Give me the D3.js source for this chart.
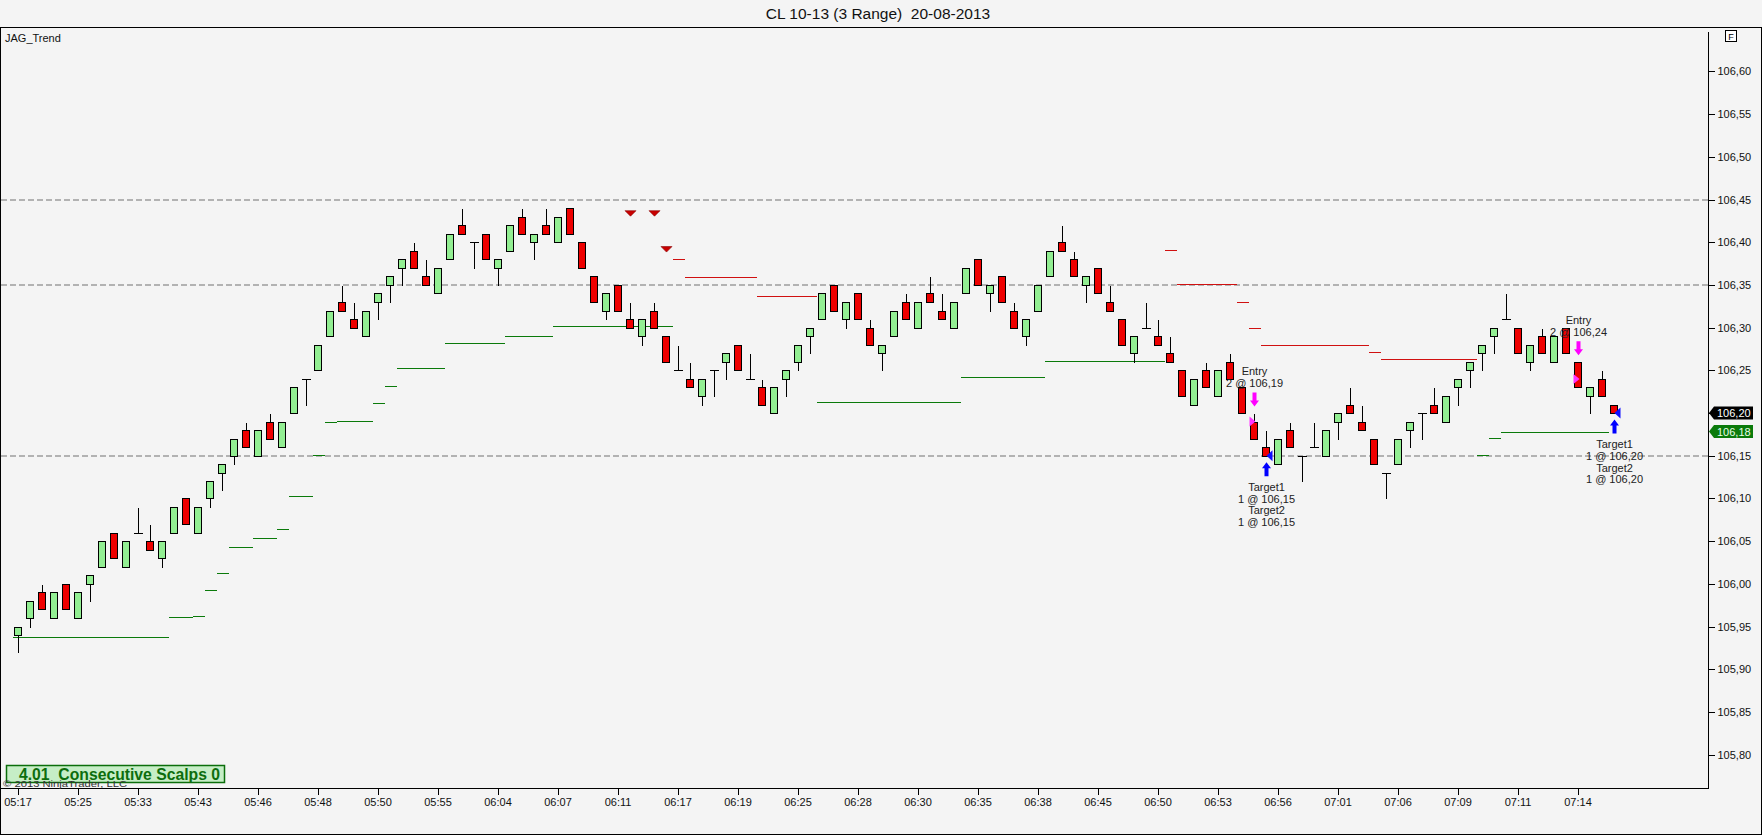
<!DOCTYPE html>
<html>
<head>
<meta charset="utf-8">
<script src="https://cdn.jsdelivr.net/npm/d3@7"></script>
<style>
  body { margin: 0; background: #f4f4f4; overflow: hidden; }
  svg text { font-family: "Liberation Sans", Arial, sans-serif; }
</style>
</head>
<body>
<svg id="chart" width="1762" height="835"></svg>
<script>
// Bars (3 range)
const openP = [
  105.94,105.96,105.99,105.96,106.00,105.96,106.00,106.02,106.06,106.02,
  106.06,106.05,106.03,106.06,106.10,106.06,106.10,106.13,106.15,106.18,
  106.15,106.19,106.16,106.20,106.24,106.25,106.29,106.33,106.31,106.29,
  106.33,106.35,106.37,106.39,106.36,106.34,106.38,106.42,106.40,106.41,
  106.37,106.39,106.43,106.40,106.42,106.40,106.44,106.40,106.36,106.32,
  106.35,106.31,106.29,106.32,106.29,106.25,106.24,106.22,106.25,106.26,
  106.28,106.24,106.23,106.20,106.24,106.26,106.29,106.31,106.35,106.31,
  106.34,106.30,106.27,106.29,106.33,106.30,106.34,106.32,106.30,106.34,
  106.38,106.34,106.36,106.32,106.29,106.32,106.36,106.40,106.38,106.35,
  106.37,106.33,106.31,106.27,106.30,106.29,106.27,106.25,106.21,106.25,
  106.22,106.26,106.23,106.19,106.16,106.14,106.18,106.15,106.16,106.15,
  106.19,106.21,106.19,106.17,106.13,106.14,106.18,106.20,106.21,106.19,
  106.23,106.25,106.27,106.29,106.31,106.30,106.26,106.29,106.26,106.30,
  106.26,106.22,106.24,106.21
];
const highP = [
  105.95,105.98,106.00,105.99,106.00,105.99,106.01,106.05,106.06,106.05,
  106.09,106.07,106.05,106.09,106.10,106.09,106.12,106.14,106.17,106.19,
  106.18,106.20,106.19,106.23,106.24,106.28,106.32,106.35,106.33,106.32,
  106.34,106.36,106.38,106.40,106.38,106.37,106.41,106.44,106.40,106.41,
  106.38,106.42,106.44,106.41,106.44,106.43,106.44,106.40,106.36,106.34,
  106.35,106.33,106.31,106.33,106.29,106.28,106.26,106.24,106.25,106.27,
  106.28,106.27,106.24,106.23,106.25,106.28,106.30,106.34,106.35,106.33,
  106.34,106.31,106.28,106.32,106.34,106.33,106.36,106.34,106.33,106.37,
  106.38,106.35,106.36,106.33,106.31,106.35,106.39,106.42,106.39,106.36,
  106.37,106.35,106.31,106.29,106.33,106.31,106.29,106.25,106.24,106.26,
  106.25,106.27,106.23,106.20,106.18,106.17,106.19,106.15,106.19,106.18,
  106.20,106.23,106.21,106.17,106.13,106.17,106.19,106.20,106.23,106.22,
  106.24,106.26,106.28,106.30,106.34,106.30,106.28,106.30,106.29,106.30,
  106.26,106.23,106.25,106.21
];
const lowP = [
  105.92,105.95,105.97,105.96,105.97,105.96,105.98,106.02,106.03,106.02,
  106.06,106.04,106.02,106.06,106.07,106.06,106.09,106.11,106.14,106.16,
  106.15,106.17,106.16,106.20,106.21,106.25,106.29,106.32,106.30,106.29,
  106.31,106.33,106.35,106.37,106.35,106.34,106.38,106.41,106.37,106.38,
  106.35,106.39,106.41,106.38,106.41,106.40,106.41,106.37,106.33,106.31,
  106.32,106.30,106.28,106.30,106.26,106.25,106.23,106.21,106.22,106.24,
  106.25,106.24,106.21,106.20,106.22,106.25,106.27,106.31,106.32,106.30,
  106.31,106.28,106.25,106.29,106.31,106.30,106.33,106.31,106.30,106.34,
  106.35,106.32,106.33,106.30,106.28,106.32,106.36,106.39,106.36,106.33,
  106.34,106.32,106.28,106.26,106.30,106.28,106.26,106.22,106.21,106.23,
  106.22,106.24,106.20,106.17,106.15,106.14,106.16,106.12,106.16,106.15,
  106.17,106.20,106.18,106.14,106.10,106.14,106.16,106.17,106.20,106.19,
  106.21,106.23,106.25,106.27,106.31,106.27,106.25,106.27,106.26,106.27,
  106.23,106.20,106.22,106.20
];
const closeP = [
  105.95,105.98,105.97,105.99,105.97,105.99,106.01,106.05,106.03,106.05,
  106.06,106.04,106.05,106.09,106.07,106.09,106.12,106.14,106.17,106.16,
  106.18,106.17,106.19,106.23,106.24,106.28,106.32,106.32,106.30,106.32,
  106.34,106.36,106.38,106.37,106.35,106.37,106.41,106.41,106.40,106.38,
  106.38,106.42,106.41,106.41,106.41,106.43,106.41,106.37,106.33,106.34,
  106.32,106.30,106.31,106.30,106.26,106.25,106.23,106.24,106.25,106.27,
  106.25,106.24,106.21,106.23,106.25,106.28,106.30,106.34,106.32,106.33,
  106.31,106.28,106.28,106.32,106.31,106.33,106.33,106.31,106.33,106.37,
  106.35,106.35,106.33,106.30,106.31,106.35,106.39,106.39,106.36,106.36,
  106.34,106.32,106.28,106.29,106.30,106.28,106.26,106.22,106.24,106.23,
  106.25,106.24,106.20,106.17,106.15,106.17,106.16,106.15,106.16,106.18,
  106.20,106.20,106.18,106.14,106.13,106.17,106.19,106.20,106.20,106.22,
  106.24,106.26,106.28,106.30,106.31,106.27,106.28,106.27,106.29,106.27,
  106.23,106.23,106.22,106.20
];

// x labels, one every 5 bars
const timeLabels = ['05:17','05:25','05:33','05:43','05:46','05:48','05:50','05:55','06:04','06:07',
  '06:11','06:17','06:19','06:25','06:28','06:30','06:35','06:38','06:45','06:50',
  '06:53','06:56','07:01','07:06','07:09','07:11','07:14'];
const labelEvery = 5;
const priceTicks = [105.80,105.85,105.90,105.95,106.00,106.05,106.10,106.15,106.20,106.25,106.30,106.35,106.40,106.45,106.50,106.55,106.60];

// JAG_Trend stop lines: [fromBar, toBar, price]
const supportSegments = [
  [0,13,105.9376],[13,15,105.9610],[15,16,105.9622],[16,17,105.9926],[17,18,106.0125],
  [18,20,106.0430],[20,22,106.0535],[22,23,106.0640],[23,25,106.1027],[25,26,106.1507],
  [26,27,106.1893],[27,30,106.1909],[30,31,106.2116],[31,32,106.2315],[32,36,106.2526],
  [36,41,106.2818],[41,45,106.2904],[45,55,106.3018],
  [67,79,106.2128],[79,86,106.2420],[86,96,106.2608],
  [122,123,106.1510],[123,124,106.1706],[124,133,106.1783]
];
const resistanceSegments = [
  [55,56,106.3802],[56,62,106.3591],[62,67,106.3366],
  [96,97,106.3904],[97,102,106.3509],[102,103,106.3299],[103,104,106.2994],
  [104,113,106.2795],[113,114,106.2713],[114,122,106.2631]
];
const signalBars = [51, 53, 54];
const signalPrices = [106.434, 106.434, 106.392];
const dashedLevels = [106.45, 106.35, 106.15];

// trades
const entryBars = [103, 130];
const entryPrices = [106.19, 106.24];
const entryQty = [2, 2];
const exitBars = [104, 133];
const exitPrices = [106.15, 106.20];
const exitQty = [1, 1];

const W = 1762, H = 835;
const plotRight = 1708, plotTop = 27, plotBottom = 788;
const fmt = p => p.toFixed(2).replace('.', ',');

const svg = d3.select('#chart');
svg.append('rect').attr('width', W).attr('height', H).attr('fill', '#f4f4f4');

const x = d3.scaleBand().domain(d3.range(openP.length)).range([12, 12 + 12 * openP.length]);
const edge = b => x.range()[0] + b * x.step();
const cx = i => Math.round(x(i) + x.bandwidth() / 2);
const y = d3.scaleLinear().domain([105.761, 106.652]).range([plotBottom, plotTop]);
const py = p => Math.round(y(p)) + 0.5;

// frame
const frame = svg.append('g').attr('stroke', '#000').attr('shape-rendering', 'crispEdges');
frame.append('line').attr('x1', 0).attr('x2', W).attr('y1', 27.5).attr('y2', 27.5);
frame.append('line').attr('x1', 0.5).attr('x2', 0.5).attr('y1', 27.5).attr('y2', H);
frame.append('line').attr('x1', W - 0.5).attr('x2', W - 0.5).attr('y1', 27.5).attr('y2', H);
frame.append('line').attr('x1', 0).attr('x2', W).attr('y1', H - 0.5).attr('y2', H - 0.5);

// title
svg.append('text').attr('x', 878).attr('y', 19).attr('text-anchor', 'middle')
  .style('font-size', '15.5px').style('white-space', 'pre').attr('fill', '#111')
  .text('CL 10-13 (3 Range)  20-08-2013');
svg.append('text').attr('x', 5).attr('y', 42).style('font-size', '11px').attr('fill', '#111').text('JAG_Trend');

// dashed levels
svg.append('g').selectAll('line').data(dashedLevels).enter().append('line')
  .attr('x1', 1).attr('x2', plotRight).attr('y1', d => Math.round(y(d))).attr('y2', d => Math.round(y(d)))
  .attr('stroke', '#b2b2b2').attr('stroke-width', 2).attr('stroke-dasharray', '6,3');

// trend lines
const trend = svg.append('g').attr('shape-rendering', 'crispEdges');
trend.selectAll('line.sup').data(supportSegments).enter().append('line').attr('class', 'sup')
  .attr('x1', d => edge(d[0]) + 1).attr('x2', d => edge(d[1]) + 1)
  .attr('y1', d => py(d[2])).attr('y2', d => py(d[2])).attr('stroke', '#0a7a0a');
trend.selectAll('line.res').data(resistanceSegments).enter().append('line').attr('class', 'res')
  .attr('x1', d => edge(d[0]) + 1).attr('x2', d => edge(d[1]) + 1)
  .attr('y1', d => py(d[2])).attr('y2', d => py(d[2])).attr('stroke', '#d01010');

// signal triangles
svg.append('g').selectAll('path').data(signalBars).enter().append('path')
  .attr('d', (d, k) => {
    const c = cx(d) + 0.5, t = y(signalPrices[k]) - 2.5;
    return `M${c - 5.5},${t}L${c + 5.5},${t}L${c},${t + 5.5}Z`;
  })
  .attr('fill', '#c80000').attr('stroke', '#8a0000').attr('stroke-width', 0.6);

// candles
const bars = svg.append('g').attr('shape-rendering', 'crispEdges');
d3.range(openP.length).forEach(i => {
  const c = cx(i) + 0.5;
  const o = openP[i], cl = closeP[i];
  bars.append('line').attr('x1', c).attr('x2', c)
    .attr('y1', py(highP[i])).attr('y2', py(lowP[i])).attr('stroke', '#000');
  if (Math.abs(o - cl) < 1e-9) {
    bars.append('line').attr('x1', c - 5).attr('x2', c + 4)
      .attr('y1', py(o)).attr('y2', py(o)).attr('stroke', '#000');
  } else {
    const top = py(Math.max(o, cl)), bot = py(Math.min(o, cl));
    bars.append('rect').attr('x', c - 4).attr('y', top).attr('width', 7).attr('height', bot - top)
      .attr('fill', cl > o ? '#92ee92' : '#ee0000').attr('stroke', '#000');
  }
});

// trade markers
const trades = svg.append('g');
const arrowDown = (c, t) => `M${c - 2},${t}L${c + 2},${t}L${c + 2},${t + 8}L${c + 4.5},${t + 8}L${c},${t + 14}L${c - 4.5},${t + 8}L${c - 2},${t + 8}Z`;
const arrowUp = (c, t) => `M${c},${t}L${c + 4.5},${t + 6}L${c + 2},${t + 6}L${c + 2},${t + 14}L${c - 2},${t + 14}L${c - 2},${t + 6}L${c - 4.5},${t + 6}Z`;
entryBars.forEach((b, k) => {
  const c = cx(b) + 0.5, hy = y(highP[b]);
  trades.append('path').attr('d', arrowDown(c, hy - 20.5)).attr('fill', '#ff00ff');
  const ey = y(entryPrices[k]);
  trades.append('path').attr('d', `M${c - 5},${ey - 5}L${c + 1},${ey}L${c - 5},${ey + 5}Z`).attr('fill', '#ff33ff');
  trades.append('text').attr('x', c).attr('y', hy - 38).attr('text-anchor', 'middle')
    .style('font-size', '11px').attr('fill', '#222').text('Entry');
  trades.append('text').attr('x', c).attr('y', hy - 26).attr('text-anchor', 'middle')
    .style('font-size', '11px').attr('fill', '#222').text(`${entryQty[k]} @ ${fmt(entryPrices[k])}`);
});
exitBars.forEach((b, k) => {
  const c = cx(b) + 0.5, ly = y(lowP[b]);
  trades.append('path').attr('d', arrowUp(c, ly + 6.5)).attr('fill', '#0000ff');
  const ey = y(exitPrices[k]);
  trades.append('path').attr('d', `M${c + 6},${ey - 5.5}L${c},${ey}L${c + 6},${ey + 5.5}Z`).attr('fill', '#1010ff');
  const lines = ['Target1', `${exitQty[k]} @ ${fmt(exitPrices[k])}`, 'Target2', `${exitQty[k]} @ ${fmt(exitPrices[k])}`];
  lines.forEach((t, j) => {
    trades.append('text').attr('x', c).attr('y', ly + 35 + j * 11.8).attr('text-anchor', 'middle')
      .style('font-size', '11px').attr('fill', '#222').text(t);
  });
});

// axes
const yAxis = d3.axisRight(y).tickValues(priceTicks).tickFormat(fmt).tickSize(6).tickPadding(3);
const gy = svg.append('g').attr('transform', `translate(${plotRight + 0.5},0)`).call(yAxis);
gy.select('.domain').remove();
gy.selectAll('text').style('font-size', '11px').attr('fill', '#111');
gy.selectAll('line').attr('shape-rendering', 'crispEdges');
svg.append('line').attr('x1', plotRight + 0.5).attr('x2', plotRight + 0.5).attr('y1', 32).attr('y2', plotBottom + 0.5)
  .attr('stroke', '#000').attr('shape-rendering', 'crispEdges');

const xTicks = timeLabels.map((t, k) => k * labelEvery);
const xAxis = d3.axisBottom(x).tickValues(xTicks).tickFormat(i => timeLabels[i / labelEvery]).tickSize(6).tickPadding(4);
const gx = svg.append('g').attr('transform', `translate(0,${plotBottom + 0.5})`).call(xAxis);
gx.select('.domain').remove();
gx.selectAll('text').style('font-size', '11px').attr('fill', '#111');
gx.selectAll('line').attr('shape-rendering', 'crispEdges');
svg.append('line').attr('x1', 0).attr('x2', plotRight + 1).attr('y1', plotBottom + 0.5).attr('y2', plotBottom + 0.5)
  .attr('stroke', '#000').attr('shape-rendering', 'crispEdges');

// price tags on the axis
const lastClose = closeP[closeP.length - 1];
const lastStop = supportSegments[supportSegments.length - 1][2];
[[lastClose, '#000', '#fff'], [lastStop, '#0a7a0a', '#e8ffe8']].forEach(([p, bg, fg]) => {
  const ty = y(p), x0 = plotRight + 1;
  svg.append('path').attr('d', `M${x0},${ty}L${x0 + 5},${ty - 6.5}L${x0 + 44},${ty - 6.5}L${x0 + 44},${ty + 6.5}L${x0 + 5},${ty + 6.5}Z`).attr('fill', bg);
  svg.append('text').attr('x', x0 + 8).attr('y', ty + 4).style('font-size', '11px').attr('fill', fg).text(fmt(p));
});

// "F" box
svg.append('rect').attr('x', 1725.5).attr('y', 30.5).attr('width', 11).attr('height', 11)
  .attr('fill', '#fff').attr('stroke', '#000').attr('shape-rendering', 'crispEdges');
svg.append('text').attr('x', 1731).attr('y', 39.5).attr('text-anchor', 'middle').style('font-size', '9px').text('F');

// scalps box + copyright
svg.append('rect').attr('x', 6.5).attr('y', 765.5).attr('width', 218).attr('height', 17)
  .attr('fill', '#c6eec6').attr('stroke', '#0b6e0b').attr('stroke-width', 1.5);
svg.append('text').attr('x', 19).attr('y', 779.5).style('font-size', '16px').style('font-weight', 'bold')
  .style('white-space', 'pre').attr('fill', '#0d6d0d')
  .attr('textLength', 201).attr('lengthAdjust', 'spacingAndGlyphs').text('4.01  Consecutive Scalps 0');
svg.append('text').attr('x', 3).attr('y', 787).style('font-size', '9.5px').attr('fill', '#333')
  .attr('textLength', 124).attr('lengthAdjust', 'spacingAndGlyphs').text('© 2013 NinjaTrader, LLC');
</script>
</body>
</html>
